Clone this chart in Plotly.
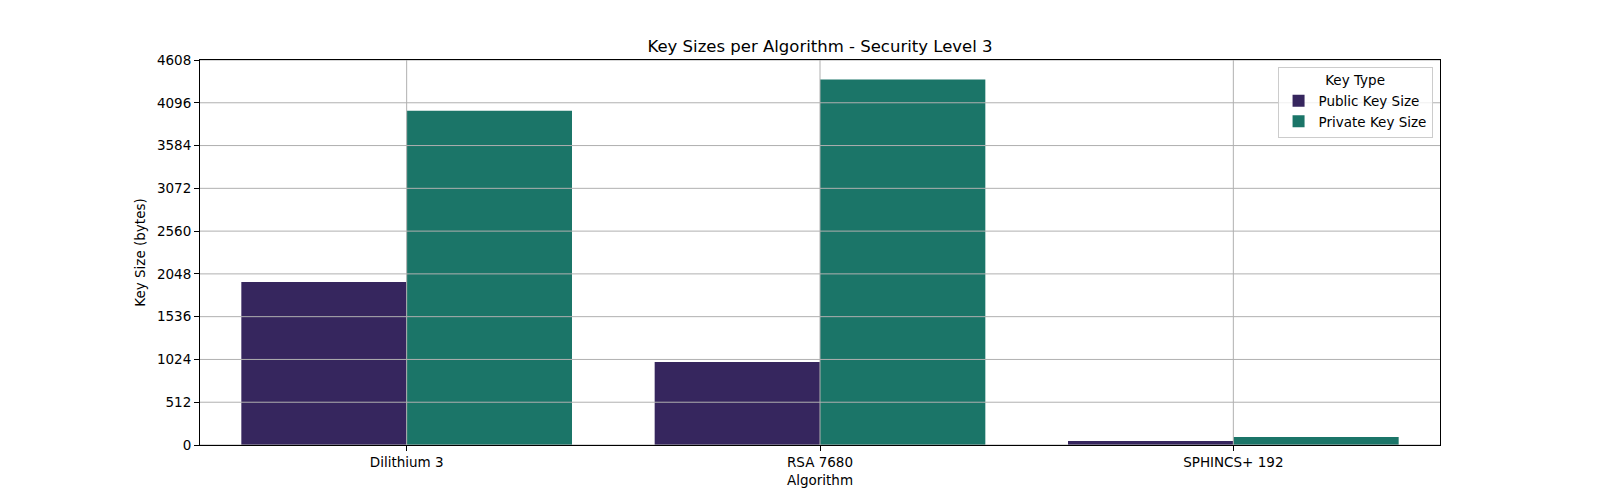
import plotly.graph_objects as go

algorithms = ["Dilithium 3", "RSA 7680", "SPHINCS+ 192"]
public_key = [1952, 992, 48]
private_key = [4000, 4376, 96]
y_ticks = [0, 512, 1024, 1536, 2048, 2560, 3072, 3584, 4096, 4608]

FONT = "DejaVu Sans"
GRID = "#b0b0b0"

fig = go.Figure()
fig.add_trace(go.Bar(x=algorithms, y=public_key, name="Public Key Size",
                     marker=dict(color="#36265e", line=dict(width=0))))
fig.add_trace(go.Bar(x=algorithms, y=private_key, name="Private Key Size",
                     marker=dict(color="#1b7568", line=dict(width=0))))

shapes = []
for t in y_ticks:
    shapes.append(dict(type="line", xref="paper", yref="y", x0=0, x1=1, y0=t, y1=t,
                       line=dict(color=GRID, width=1), layer="above"))
for a in algorithms:
    shapes.append(dict(type="line", xref="x", yref="paper", x0=a, x1=a, y0=0, y1=1,
                       line=dict(color=GRID, width=1), layer="above"))

fig.update_layout(
    width=1600, height=500,
    margin=dict(l=200, r=160, t=60, b=55),
    paper_bgcolor="white", plot_bgcolor="white",
    font=dict(family=FONT, size=13.5, color="black"),
    barmode="group", bargap=0.2, bargroupgap=0,
    shapes=shapes,
    title=dict(text="Key Sizes per Algorithm - Security Level 3", x=0.5125, xanchor="center",
               y=0.908, yanchor="middle", font=dict(family=FONT, size=16.5, color="black")),
    legend=dict(title=dict(text="Key Type", side="top center", font=dict(size=13.5)),
                x=0.994, xanchor="right", y=0.982, yanchor="top",
                bgcolor="rgba(255,255,255,0.8)", bordercolor="#cccccc", borderwidth=1,
                font=dict(size=13.5), itemwidth=30, tracegroupgap=0),
    xaxis=dict(range=[-0.5, 2.5], showgrid=False, showline=True, linecolor="black",
               linewidth=1, mirror=True, ticks="outside", ticklen=5, tickwidth=1,
               tickcolor="black", layer="above traces",
               title=dict(text="Algorithm", standoff=6, font=dict(size=13.5))),
    yaxis=dict(range=[0, 4608], tickvals=y_ticks, showgrid=False, zeroline=False,
               showline=True, linecolor="black", linewidth=1, mirror=True,
               ticks="outside", ticklen=5, tickwidth=1, tickcolor="black",
               layer="above traces",
               title=dict(text="Key Size (bytes)", standoff=8, font=dict(size=13.5))),
)

fig.write_html("out.html", config={"displayModeBar": False},
               post_script="document.body.style.margin='0';")
